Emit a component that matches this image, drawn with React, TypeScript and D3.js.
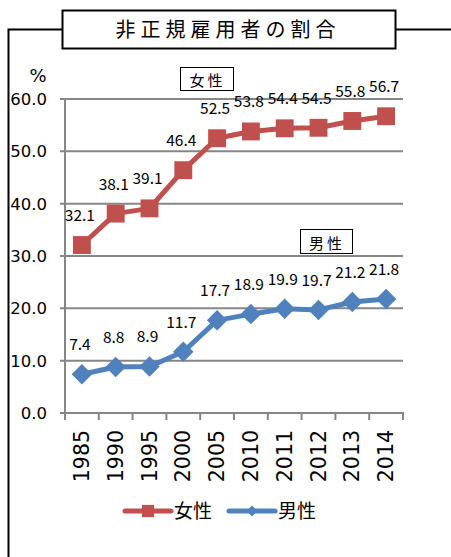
import { useRef, useEffect } from "react";
import * as d3 from "d3";

const years = ["1985", "1990", "1995", "2000", "2005", "2010", "2011", "2012", "2013", "2014"];
const female = [32.1, 38.1, 39.1, 46.4, 52.5, 53.8, 54.4, 54.5, 55.8, 56.7];
const male = [7.4, 8.8, 8.9, 11.7, 17.7, 18.9, 19.9, 19.7, 21.2, 21.8];
const yTicks = [0, 10, 20, 30, 40, 50, 60];

const RED = "#C0504D";
const BLUE = "#4F81BD";
const FONT = "'Noto Sans CJK JP', 'Noto Sans', sans-serif";
const NUMFONT = "'DejaVu Sans', sans-serif";

export default function App() {
  const ref = useRef<SVGSVGElement>(null);

  useEffect(() => {
    const svg = d3.select(ref.current);
    svg.selectAll("*").remove();

    const left = 65, right = 403, top = 99, bottom = 413;
    const x = d3.scaleBand().domain(years).range([left, right]);
    const y = d3.scaleLinear().domain([0, 60]).range([bottom, top]);
    const cx = (d: string) => (x(d) as number) + x.bandwidth() / 2;

    // outer frame
    svg.append("path")
      .attr("d", "M8.5,557 L8.5,29.5 L62,29.5 M395,29.5 L451,29.5")
      .attr("fill", "none").attr("stroke", "#000").attr("stroke-width", 2);
    svg.append("rect")
      .attr("x", 62.5).attr("y", 10.5).attr("width", 333).attr("height", 38)
      .attr("fill", "#fff").attr("stroke", "#000").attr("stroke-width", 2);
    svg.append("text")
      .attr("x", 228).attr("y", 37).attr("text-anchor", "middle")
      .attr("font-family", FONT).attr("font-size", 20).attr("letter-spacing", 5)
      .text("非正規雇用者の割合");

    // grid + y axis
    const g = svg.append("g");
    g.selectAll(".grid").data(yTicks.filter(t => t > 0)).enter().append("line")
      .attr("x1", left - 5).attr("x2", right)
      .attr("y1", d => y(d)).attr("y2", d => y(d))
      .attr("stroke", "#868686").attr("stroke-width", 2);
    g.append("line").attr("x1", left).attr("x2", left).attr("y1", top).attr("y2", bottom)
      .attr("stroke", "#868686").attr("stroke-width", 2);
    g.append("line").attr("x1", left - 5).attr("x2", right + 1).attr("y1", bottom).attr("y2", bottom)
      .attr("stroke", "#868686").attr("stroke-width", 2);
    g.selectAll(".ytl").data(yTicks).enter().append("text")
      .attr("x", 47).attr("y", d => y(d) + 6).attr("text-anchor", "end")
      .attr("font-family", NUMFONT).attr("font-size", 16.5).text(d => d.toFixed(1));
    svg.append("text").attr("x", 38).attr("y", 82).attr("text-anchor", "middle")
      .attr("font-family", NUMFONT).attr("font-size", 18).text("%");

    // x ticks
    const xt = d3.range(years.length + 1).map(i => left + i * x.bandwidth());
    g.selectAll(".xt").data(xt).enter().append("line")
      .attr("x1", d => d).attr("x2", d => d).attr("y1", bottom).attr("y2", bottom + 7)
      .attr("stroke", "#868686").attr("stroke-width", 2);
    g.selectAll(".xtl").data(years).enter().append("text")
      .attr("transform", d => `translate(${cx(d) + 7},${430}) rotate(-90)`)
      .attr("text-anchor", "end")
      .attr("font-family", NUMFONT).attr("font-size", 20.5).text(d => d);

    const line = d3.line<number>().x((_, i) => cx(years[i])).y(d => y(d));

    const drawSeries = (vals: number[], color: string, shape: "square" | "diamond") => {
      svg.append("path").datum(vals).attr("d", line)
        .attr("fill", "none").attr("stroke", color).attr("stroke-width", 5)
        .attr("stroke-linejoin", "round");
      const sym = shape === "square"
        ? d3.symbol().type(d3.symbolSquare).size(320)
        : d3.symbol().type(d3.symbolSquare).size(210);
      svg.selectAll(null).data(vals).enter().append("path")
        .attr("d", sym)
        .attr("transform", (d, i) => `translate(${cx(years[i])},${y(d)})` + (shape === "diamond" ? " rotate(45)" : ""))
        .attr("fill", color);
      svg.selectAll(null).data(vals).enter().append("text")
        .attr("x", (_, i) => cx(years[i]) - 2).attr("y", d => y(d) - 24)
        .attr("text-anchor", "middle")
        .attr("font-family", FONT).attr("font-size", 15.5).text(d => d.toFixed(1));
    };
    drawSeries(female, RED, "square");
    drawSeries(male, BLUE, "diamond");

    // series label boxes
    const boxes = [
      { label: "女性", x: 180, y: 67, w: 53, h: 23 },
      { label: "男性", x: 300, y: 229, w: 52, h: 24 },
    ];
    boxes.forEach(b => {
      svg.append("rect").attr("x", b.x + 0.5).attr("y", b.y + 0.5).attr("width", b.w).attr("height", b.h)
        .attr("fill", "#fff").attr("stroke", "#000").attr("stroke-width", 1);
      svg.append("text").attr("x", b.x + b.w / 2 + 1).attr("y", b.y + b.h - 4).attr("text-anchor", "middle")
        .attr("font-family", FONT).attr("font-size", 15).attr("letter-spacing", 3).text(b.label);
    });

    // legend
    const legend = [
      { label: "女性", color: RED, shape: d3.symbolSquare, size: 150, rot: 0, x: 125 },
      { label: "男性", color: BLUE, shape: d3.symbolSquare, size: 60, rot: 45, x: 229 },
    ];
    legend.forEach(l => {
      svg.append("line").attr("x1", l.x).attr("x2", l.x + 46).attr("y1", 511).attr("y2", 511)
        .attr("stroke", l.color).attr("stroke-width", 5).attr("stroke-linecap", "round");
      svg.append("path").attr("d", d3.symbol().type(l.shape).size(l.size))
        .attr("transform", `translate(${l.x + 23},511) rotate(${l.rot})`).attr("fill", l.color);
      svg.append("text").attr("x", l.x + 49).attr("y", 518)
        .attr("font-family", FONT).attr("font-size", 19).text(l.label);
    });
  }, []);

  return (
    <svg ref={ref} width={451} height={557}
      style={{ position: "absolute", left: 0, top: 0, background: "#fff" }} />
  );
}
